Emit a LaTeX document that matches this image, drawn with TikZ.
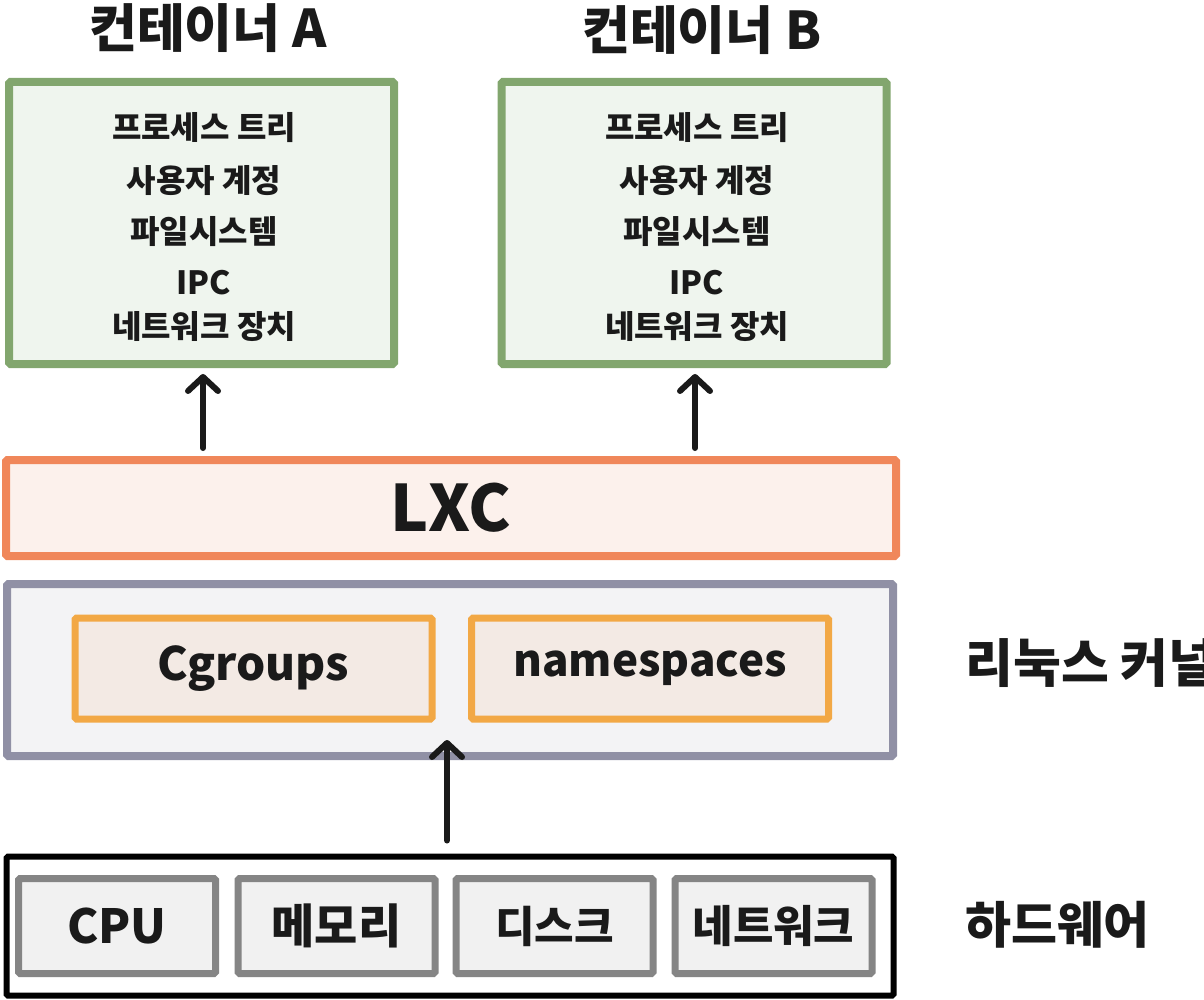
\documentclass[tikz,border=0pt]{standalone}
\usepackage{fontspec}
\setmainfont{Noto Sans CJK KR}
\usetikzlibrary{arrows.meta}
\definecolor{gstroke}{HTML}{82A66E}
\definecolor{gfill}{HTML}{EFF5EE}
\definecolor{ostroke}{HTML}{F0875A}
\definecolor{ofill}{HTML}{FCF1EC}
\definecolor{kstroke}{HTML}{9090A5}
\definecolor{kfill}{HTML}{F3F3F5}
\definecolor{ystroke}{HTML}{F2A845}
\definecolor{yfill}{HTML}{F3EAE4}
\definecolor{hstroke}{HTML}{858585}
\definecolor{hfill}{HTML}{F1F1F1}
\definecolor{ink}{HTML}{1A1A1A}
\tikzset{
  box/.style={draw, line width=8pt, rounded corners=1.5pt, outer sep=0pt, inner sep=0pt, text=ink, font=\bfseries},
  contbox/.style={box, draw=gstroke, fill=gfill, minimum width=385pt, minimum height=282pt},
  lxcbox/.style={box, draw=ostroke, fill=ofill, minimum width=890pt, minimum height=96pt},
  kbox/.style={box, draw=kstroke, fill=kfill, minimum width=886pt, minimum height=172pt},
  modbox/.style={box, line width=7pt, draw=ystroke, fill=yfill, minimum width=357pt, minimum height=101pt},
  hwbox/.style={box, line width=6pt, draw=black, fill=white, minimum width=887pt, minimum height=139pt},
  partbox/.style={box, line width=7pt, draw=hstroke, fill=hfill, minimum width=197pt, minimum height=95pt},
  title/.style={text=ink, font=\bfseries\fontsize{52}{56}\selectfont},
  itemtxt/.style={text=ink, font=\bfseries\fontsize{32}{35}\selectfont},
  sidelabel/.style={text=ink, anchor=west, font=\bfseries\fontsize{52}{56}\selectfont},
  arr/.style={line width=6pt, line cap=round, -{Straight Barb[length=14pt, width=30pt, line cap=round, line join=round]}, ink},
}
\begin{document}
\begin{tikzpicture}[x=1pt, y=-1pt]
\useasboundingbox (0,0) rectangle (1204,1000);
% containers
\node[contbox] (ca) at (201.5,223) {};
\node[contbox] (cb) at (694,223) {};
\node[title] (ta) at (208,28) {컨테이너 A};
\node[title] (tb) at (702,30) {컨테이너 B};
\foreach \c/\xx in {a/204, b/697} {
  \node[itemtxt] (p\c) at (\xx,128) {프로세스 트리};
  \node[itemtxt] (u\c) at (\xx,181) {사용자 계정};
  \node[itemtxt] (f\c) at (\xx,232) {파일시스템};
  \node[itemtxt] (i\c) at (\xx,283) {IPC};
  \node[itemtxt] (n\c) at (\xx,327) {네트워크 장치};
}
% LXC
\node[lxcbox, font=\bfseries\fontsize{64}{68}\selectfont] (lxc) at (451,508) {LXC};
% kernel
\node[kbox] (kern) at (450,670) {};
\node[modbox, font=\bfseries\fontsize{46}{50}\selectfont] (cg) at (253.5,668.5) {Cgroups};
\node[modbox, font=\bfseries\fontsize{44}{48}\selectfont] (ns) at (650,668.5) {namespaces};
\node[sidelabel] (kl) at (962,663) {리눅스 커널};
% hardware
\node[hwbox] (hw) at (450,926) {};
\node[partbox, font=\bfseries\fontsize{47}{51}\selectfont] (cpu) at (117,926) {CPU};
\node[partbox, font=\bfseries\fontsize{47}{51}\selectfont] (mem) at (336.5,926) {메모리};
\node[partbox, font=\bfseries\fontsize{43}{47}\selectfont] (disk) at (554.5,926) {디스크};
\node[partbox, font=\bfseries\fontsize{44}{48}\selectfont] (net) at (773.5,926) {네트워크};
\node[sidelabel, font=\bfseries\fontsize{50}{54}\selectfont] (hl) at (962,925) {하드웨어};
% arrows
\coordinate (xa) at (203,0);
\coordinate (xb) at (695,0);
\coordinate (xk) at (447,0);
\draw[arr] ([yshift=12pt]lxc.north -| xa) -- ([yshift=-10pt]ca.south -| xa);
\draw[arr] ([yshift=12pt]lxc.north -| xb) -- ([yshift=-10pt]cb.south -| xb);
\draw[arr] ([yshift=16pt]hw.north -| xk) -- ([yshift=16pt]kern.south -| xk);
\end{tikzpicture}
\end{document}
